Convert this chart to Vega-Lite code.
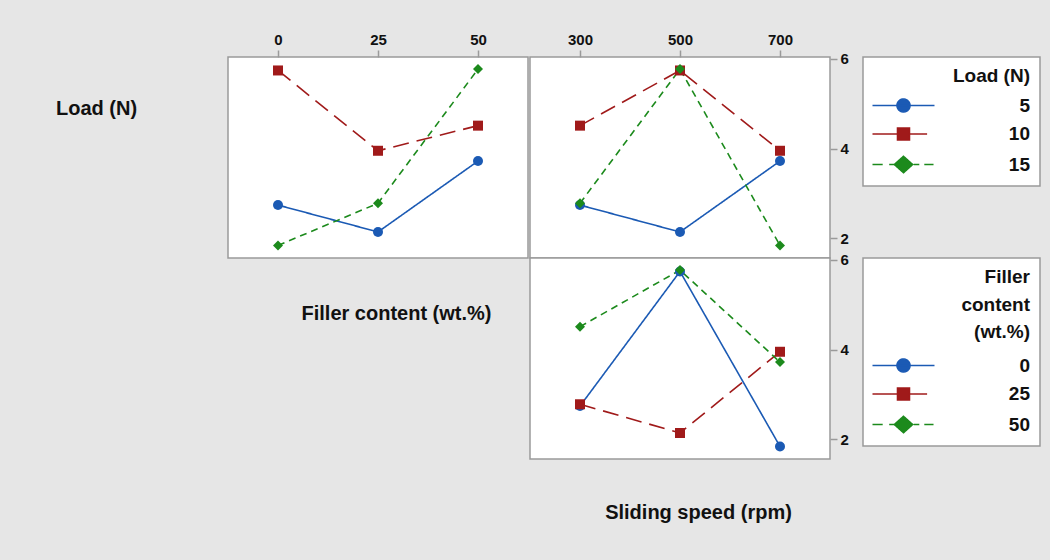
{
  "$schema": "https://vega.github.io/schema/vega-lite/v6.json",
  "background": "#e6e6e6",
  "padding": {"left": 54, "top": 31, "right": 10, "bottom": 38},
  "data": {"values": [
    {"load": 5, "filler": 0, "speed": 300, "value": 2.74},
    {"load": 5, "filler": 25, "speed": 500, "value": 2.14},
    {"load": 5, "filler": 50, "speed": 700, "value": 3.72},
    {"load": 10, "filler": 0, "speed": 500, "value": 5.74},
    {"load": 10, "filler": 25, "speed": 700, "value": 3.95},
    {"load": 10, "filler": 50, "speed": 300, "value": 4.51},
    {"load": 15, "filler": 0, "speed": 700, "value": 1.84},
    {"load": 15, "filler": 25, "speed": 300, "value": 2.78},
    {"load": 15, "filler": 50, "speed": 500, "value": 5.77}
  ]},
  "config": {
    "font": "Liberation Sans",
    "view": {"fill": "white", "stroke": "#9a9a9a", "strokeWidth": 1.5},
    "axis": {"grid": false, "domain": false, "tickColor": "#9a9a9a", "tickSize": 7, "tickWidth": 1.5,
      "labelFont": "Liberation Sans", "labelFontSize": 15, "labelFontWeight": "bold", "labelColor": "#111111", "labelPadding": 3,
      "titleFont": "Liberation Sans", "titleFontSize": 20, "titleFontWeight": "bold", "titleColor": "#111111"},
    "legend": {"fillColor": "white", "strokeColor": "#9a9a9a", "strokeWidth": 1.5, "padding": 10,
      "titleFont": "Liberation Sans", "titleFontSize": 19, "titleFontWeight": "bold", "titleColor": "#111111",
      "labelFont": "Liberation Sans", "labelFontSize": 19, "labelFontWeight": "bold", "labelColor": "#111111"}
  },
  "spacing": 0,
  "resolve": {"scale": {"x": "independent", "y": "independent", "color": "independent", "shape": "independent", "strokeDash": "independent", "size": "independent"}},
  "hconcat": [
    {
      "width": 300, "height": 201,
      "resolve": {"axis": {"x": "independent"}},
      "encoding": {
        "y": {"field": "value", "type": "quantitative", "scale": {"domain": [1.56, 6.04], "nice": false, "zero": false},
          "axis": {"orient": "left", "labels": false, "ticks": false, "title": "Load (N)", "titleAngle": 0, "titleX": -132, "titleY": 51, "titleAlign": "center", "titleBaseline": "middle"}},
        "color": {"field": "load", "type": "nominal", "scale": {"domain": [5, 10, 15], "range": ["#1b5ab4", "#a01a1a", "#1c8a1c"]}, "legend": null}
      },
      "layer": [
        {
          "mark": {"type": "line", "strokeWidth": 1.6},
          "encoding": {
            "x": {"field": "filler", "type": "quantitative", "scale": {"domain": [-12.5, 62.5], "nice": false, "zero": false},
              "axis": {"orient": "top", "values": [0, 25, 50], "title": null}},
            "strokeDash": {"field": "load", "type": "nominal", "scale": {"range": [[1, 0], [16, 8], [7, 5]]}, "legend": null}
          }
        },
        {
          "mark": {"type": "point", "filled": true, "opacity": 1},
          "encoding": {
            "x": {"field": "filler", "type": "quantitative",
              "axis": {"orient": "bottom", "labels": false, "ticks": false, "title": "Filler content (wt.%)", "titleX": 168, "titleY": 55, "titleAlign": "center", "titleBaseline": "middle"}},
            "shape": {"field": "load", "type": "nominal", "scale": {"range": ["circle", "square", "diamond"]}, "legend": null},
            "size": {"field": "load", "type": "ordinal", "scale": {"range": [100, 100, 220]}, "legend": null}
          }
        }
      ]
    },
    {
      "spacing": 0,
      "bounds": "flush",
      "resolve": {"scale": {"x": "independent", "y": "independent", "color": "independent", "shape": "independent", "strokeDash": "independent", "size": "independent"}},
      "vconcat": [
        {
          "width": 300, "height": 201,
          "encoding": {
            "x": {"field": "speed", "type": "quantitative", "scale": {"domain": [200, 800], "nice": false, "zero": false},
              "axis": {"orient": "top", "values": [300, 500, 700], "title": null}},
            "y": {"field": "value", "type": "quantitative", "scale": {"domain": [1.56, 6.04], "nice": false, "zero": false},
              "axis": {"orient": "right", "values": [2, 4, 6], "title": null}},
            "color": {"field": "load", "type": "nominal", "title": "Load (N)", "scale": {"domain": [5, 10, 15], "range": ["#1b5ab4", "#a01a1a", "#1c8a1c"]},
              "legend": {"orient": "right", "offset": 14, "titleAnchor": "end", "titleAlign": "right", "titlePadding": 10,
                "labelAlign": "right", "labelOffset": 117, "symbolSize": 169, "symbolOffset": 21, "rowPadding": 8.5,
                "encode": {"symbols": {"update": {
                  "shape": {"signal": "['M-4.77,0H4.77M-1,0A1,1,0,1,1,1,0A1,1,0,1,1,-1,0Z','M-4.77,0H-0.92M0.92,0H3.63M-0.92,-0.92H0.92V0.92H-0.92Z','M-4.77,0H-3.2M-2.2,0H-1.48M1.57,0H2.43M3.2,0H4.62M0,-1.26L1.41,0L0,1.26L-1.41,0Z'][datum.index]"},
                  "stroke": {"signal": "['#1b5ab4','#a01a1a','#1c8a1c'][datum.index]"},
                  "strokeWidth": {"value": 1.6},
                  "strokeDash": {"value": [1, 0]},
                  "size": {"value": 169},
                  "opacity": {"value": 1}
                }}}}}
          },
          "layer": [
            {
              "mark": {"type": "line", "strokeWidth": 1.6},
              "encoding": {
                "strokeDash": {"field": "load", "type": "nominal", "scale": {"range": [[1, 0], [16, 8], [7, 5]]}, "legend": null}
              }
            },
            {
              "mark": {"type": "point", "filled": true, "opacity": 1},
              "encoding": {
                "shape": {"field": "load", "type": "nominal", "scale": {"range": ["circle", "square", "diamond"]}, "legend": null},
                "size": {"field": "load", "type": "ordinal", "scale": {"range": [100, 100, 220]}, "legend": null}
              }
            }
          ]
        },
        {
          "width": 300, "height": 201,
          "encoding": {
            "x": {"field": "speed", "type": "quantitative", "scale": {"domain": [200, 800], "nice": false, "zero": false},
              "axis": {"orient": "bottom", "labels": false, "ticks": false, "title": "Sliding speed (rpm)", "titleX": 168, "titleY": 53, "titleAlign": "center", "titleBaseline": "middle"}},
            "y": {"field": "value", "type": "quantitative", "scale": {"domain": [1.56, 6.04], "nice": false, "zero": false},
              "axis": {"orient": "right", "values": [2, 4, 6], "title": null}},
            "color": {"field": "filler", "type": "nominal", "title": ["Filler", "content", "(wt.%)"], "scale": {"domain": [0, 25, 50], "range": ["#1b5ab4", "#a01a1a", "#1c8a1c"]},
              "legend": {"orient": "right", "offset": 14, "titleAnchor": "end", "titleAlign": "right", "titlePadding": 14, "titleLineHeight": 27.5,
                "labelAlign": "right", "labelOffset": 117, "symbolSize": 169, "symbolOffset": 21, "rowPadding": 8.5,
                "encode": {"symbols": {"update": {
                  "shape": {"signal": "['M-4.77,0H4.77M-1,0A1,1,0,1,1,1,0A1,1,0,1,1,-1,0Z','M-4.77,0H-0.92M0.92,0H3.63M-0.92,-0.92H0.92V0.92H-0.92Z','M-4.77,0H-3.2M-2.2,0H-1.48M1.57,0H2.43M3.2,0H4.62M0,-1.26L1.41,0L0,1.26L-1.41,0Z'][datum.index]"},
                  "stroke": {"signal": "['#1b5ab4','#a01a1a','#1c8a1c'][datum.index]"},
                  "strokeWidth": {"value": 1.6},
                  "strokeDash": {"value": [1, 0]},
                  "size": {"value": 169},
                  "opacity": {"value": 1}
                }}}}}
          },
          "layer": [
            {
              "mark": {"type": "line", "strokeWidth": 1.6},
              "encoding": {
                "strokeDash": {"field": "filler", "type": "nominal", "scale": {"range": [[1, 0], [16, 8], [7, 5]]}, "legend": null}
              }
            },
            {
              "mark": {"type": "point", "filled": true, "opacity": 1},
              "encoding": {
                "shape": {"field": "filler", "type": "nominal", "scale": {"range": ["circle", "square", "diamond"]}, "legend": null},
                "size": {"field": "filler", "type": "ordinal", "scale": {"range": [100, 100, 220]}, "legend": null}
              }
            }
          ]
        }
      ]
    }
  ]
}
